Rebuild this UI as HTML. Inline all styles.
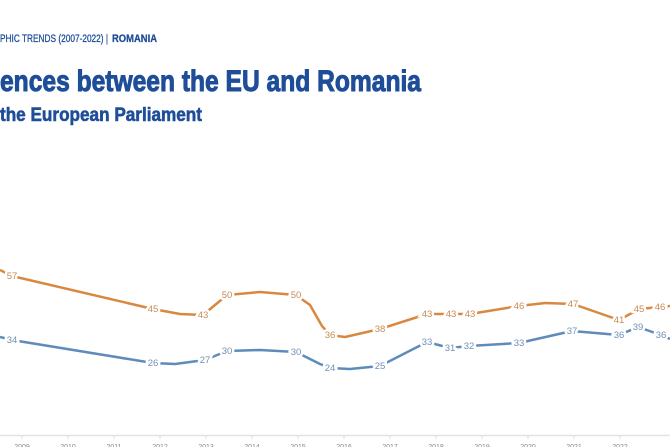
<!DOCTYPE html>
<html><head><meta charset="utf-8"><style>
html,body{margin:0;padding:0;background:#fff;width:670px;height:447px;overflow:hidden}
svg{display:block}
.t{font-family:"Liberation Sans Narrow","Liberation Sans",sans-serif;font-weight:bold;fill:#1f4e99;stroke:#1f4e99}
.v{font-family:"Liberation Sans Narrow","Liberation Sans",sans-serif;font-size:9.5px;text-anchor:middle;paint-order:stroke;stroke:#fff;stroke-width:5px}
.o{fill:#c98a52}.b{fill:#7190b5}
.ax{font-family:"Liberation Sans",sans-serif;font-size:7px;fill:#888;text-anchor:middle}
</style></head><body>
<svg width="670" height="447" viewBox="0 0 670 447">
<text class="t" x="0" y="42" font-size="11" textLength="108" lengthAdjust="spacingAndGlyphs" style="font-weight:normal;stroke-width:0.3">PHIC TRENDS (2007-2022) |</text>
<text class="t" x="112" y="42" font-size="11" textLength="45" lengthAdjust="spacingAndGlyphs" style="stroke-width:0.3">ROMANIA</text>
<text class="t" x="0" y="91" font-size="30" textLength="421" lengthAdjust="spacingAndGlyphs" style="stroke-width:1">ences between the EU and Romania</text>
<text class="t" x="0" y="121" font-size="19" textLength="202" lengthAdjust="spacingAndGlyphs" style="stroke-width:0.6">the European Parliament</text>
<line x1="0" y1="435.5" x2="670" y2="435.5" stroke="#e2e2e2" stroke-width="1.5"/>
<g stroke="#ddd" stroke-width="1">
<line x1="22" y1="435" x2="22" y2="439"/><line x1="68" y1="435" x2="68" y2="439"/><line x1="114" y1="435" x2="114" y2="439"/><line x1="160" y1="435" x2="160" y2="439"/><line x1="206" y1="435" x2="206" y2="439"/><line x1="252" y1="435" x2="252" y2="439"/><line x1="298" y1="435" x2="298" y2="439"/><line x1="344" y1="435" x2="344" y2="439"/><line x1="390" y1="435" x2="390" y2="439"/><line x1="436" y1="435" x2="436" y2="439"/><line x1="482" y1="435" x2="482" y2="439"/><line x1="528" y1="435" x2="528" y2="439"/><line x1="574" y1="435" x2="574" y2="439"/><line x1="620" y1="435" x2="620" y2="439"/>
</g>
<g class="ax">
<text x="22" y="449">2009</text><text x="68" y="449">2010</text><text x="114" y="449">2011</text><text x="160" y="449">2012</text><text x="206" y="449">2013</text><text x="252" y="449">2014</text><text x="298" y="449">2015</text><text x="344" y="449">2016</text><text x="390" y="449">2017</text><text x="436" y="449">2018</text><text x="482" y="449">2019</text><text x="528" y="449">2020</text><text x="574" y="449">2021</text><text x="620" y="449">2022</text>
</g>
<polyline fill="none" stroke="#d9883f" stroke-width="2.5" stroke-linejoin="round" points="0,270 12,276 153,309 180,314 203,315 215,305 227,295 260,292 296,295 310,305 322,326 330,335 345,337 380,329 427,314 451,314 470,314 519,306 545,303 573,304 619,320 639,309 660,307 670,306"/>
<polyline fill="none" stroke="#5f8bbb" stroke-width="2.5" stroke-linejoin="round" points="0,337 12,340 153,363 175,364 205,360 227,351 260,350 296,352 320,364 330,368 350,369 380,366 427,342 450,348 469,346 519,343 572,331 619,335 638,327 661,335 670,339"/>
<g class="v o">
<text x="12" y="279">57</text><text x="153" y="312">45</text><text x="203" y="318">43</text><text x="227" y="298">50</text><text x="296" y="298">50</text><text x="330" y="338">36</text><text x="380" y="332">38</text><text x="427" y="317">43</text><text x="451" y="317">43</text><text x="470" y="317">43</text><text x="519" y="309">46</text><text x="573" y="307">47</text><text x="619" y="323">41</text><text x="639" y="312">45</text><text x="660" y="310">46</text>
</g>
<g class="v b">
<text x="12" y="343">34</text><text x="153" y="366">26</text><text x="205" y="363">27</text><text x="227" y="354">30</text><text x="296" y="355">30</text><text x="330" y="371">24</text><text x="380" y="369">25</text><text x="427" y="345">33</text><text x="450" y="351">31</text><text x="469" y="349">32</text><text x="519" y="346">33</text><text x="572" y="334">37</text><text x="619" y="338">36</text><text x="638" y="330">39</text><text x="661" y="338">36</text>
</g>
</svg>
</body></html>
